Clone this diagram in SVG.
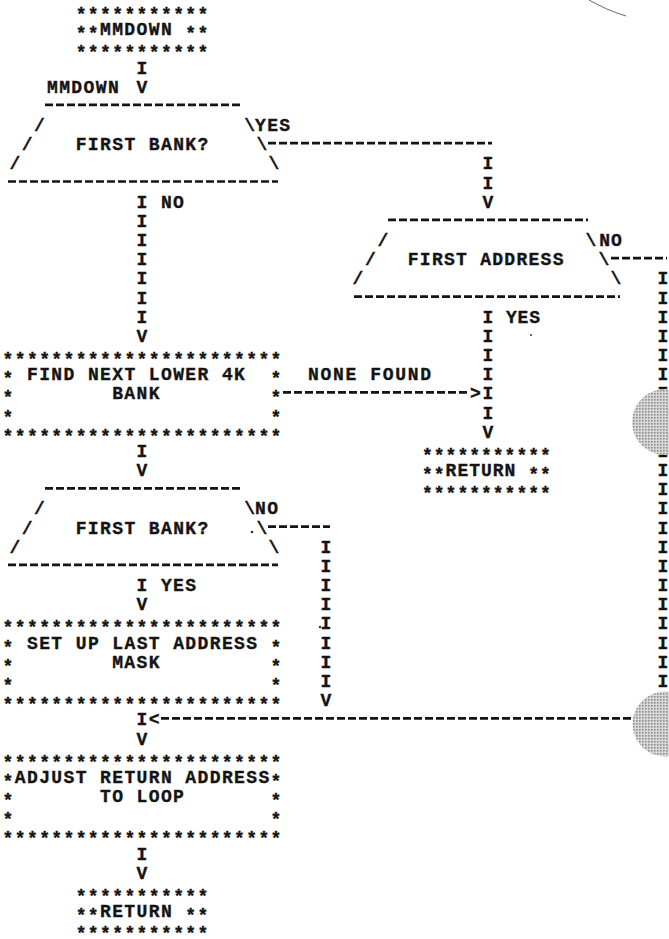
<svg xmlns="http://www.w3.org/2000/svg" width="669" height="939" viewBox="0 0 669 939">
<defs>
<style>
text{font-family:"Liberation Mono","DejaVu Sans Mono",monospace;font-size:18px;font-weight:bold;fill:#141414;stroke:#141414;stroke-width:0.35px}
.a{letter-spacing:1.38px}
.b{letter-spacing:1.67px}
.c{letter-spacing:0.87px}
.e{letter-spacing:1px}
.f{letter-spacing:1.27px}
.m{text-anchor:middle}
.d{stroke:#141414;stroke-width:2.7;stroke-dasharray:8 3;fill:none}
</style>
<pattern id="stip" width="3" height="3" patternUnits="userSpaceOnUse"><rect width="3" height="3" fill="#d8d8d8"/><rect width="1.6" height="1.6" fill="#8e8e8e"/></pattern>
</defs>
<rect width="669" height="939" fill="#fff"/>

<g id="start">
<text class="a" x="75.7" y="20">***********</text>
<text class="a" x="75.7" y="39.2">**</text>
<text class="a" x="100" y="35.2">MMDOWN</text>
<text class="a" x="185.3" y="39.2">**</text>
<text class="a" x="75.7" y="58.3">***********</text>
</g>

<g id="decision1">
<line class="d" x1="45" y1="104.9" x2="243" y2="104.9"/>
<text class="m" x="39.4" y="131">/</text>
<text class="m" x="249.6" y="131">\</text>
<text class="m" x="27.2" y="150.2">/</text>
<text class="a" x="75.7" y="150.2">FIRST BANK?</text>
<text class="m" x="261.8" y="150.2">\</text>
<text class="m" x="15" y="169.4">/</text>
<text class="m" x="274" y="169.4">\</text>
<line class="d" x1="8" y1="181.5" x2="278" y2="181.5"/>
</g>

<g id="decision2">
<line class="d" x1="388" y1="219.9" x2="588" y2="219.9"/>
<text class="m" x="383" y="246">/</text>
<text class="m" x="591" y="246">\</text>
<text class="m" x="370.3" y="265.2">/</text>
<text class="f" x="407.8" y="265.2">FIRST ADDRESS</text>
<text class="m" x="604" y="265.2">\</text>
<text class="m" x="358" y="284.4">/</text>
<text class="m" x="616" y="284.4">\</text>
<line class="d" x1="354" y1="296.6" x2="620" y2="296.6"/>
</g>

<g id="process1">
<text class="a" x="2.6" y="365.1">***********************</text>
<text class="m" x="8" y="384.2">*</text>
<text class="a" x="27" y="380.2">FIND NEXT LOWER 4K</text>
<text class="m" x="276" y="384.2">*</text>
<text class="m" x="8" y="403.4">*</text>
<text class="a" x="112.2" y="399.4">BANK</text>
<text class="m" x="276" y="403.4">*</text>
<text class="m" x="8" y="422.6">*</text>
<text class="m" x="276" y="422.6">*</text>
<text class="a" x="2.6" y="441.7">***********************</text>
</g>

<g id="return1">
<text class="e" x="422" y="460.9">***********</text>
<text class="e" x="422" y="480.1">**</text>
<text class="e" x="445.6" y="476.1">RETURN</text>
<text class="e" x="528.2" y="480.1">**</text>
<text class="e" x="422" y="499.3">***********</text>
</g>

<g id="decision3">
<line class="d" x1="45" y1="488.3" x2="243" y2="488.3"/>
<text class="m" x="39.4" y="514.4">/</text>
<text class="m" x="249.6" y="514.4">\</text>
<text class="m" x="27.2" y="533.6">/</text>
<text class="a" x="75.7" y="533.6">FIRST BANK?</text>
<text class="m" x="261.8" y="533.6">\</text>
<text class="m" x="15" y="552.8">/</text>
<text class="m" x="274" y="552.8">\</text>
<line class="d" x1="8" y1="564.9" x2="278" y2="564.9"/>
</g>

<g id="process2">
<text class="a" x="2.6" y="633.4">***********************</text>
<text class="m" x="8" y="652.6">*</text>
<text class="a" x="27" y="648.6">SET UP LAST ADDRESS</text>
<text class="m" x="276" y="652.6">*</text>
<text class="m" x="8" y="671.8">*</text>
<text class="a" x="112.2" y="667.8">MASK</text>
<text class="m" x="276" y="671.8">*</text>
<text class="m" x="8" y="690.9">*</text>
<text class="m" x="276" y="690.9">*</text>
<text class="a" x="2.6" y="710.1">***********************</text>
</g>

<g id="process3">
<text class="a" x="2.6" y="767.6">***********************</text>
<text class="m" x="8" y="786.8">*</text>
<text class="a" x="14.8" y="782.8">ADJUST RETURN ADDRESS</text>
<text class="m" x="276" y="786.8">*</text>
<text class="m" x="8" y="806">*</text>
<text class="a" x="100" y="802">TO LOOP</text>
<text class="m" x="276" y="806">*</text>
<text class="m" x="8" y="825.1">*</text>
<text class="m" x="276" y="825.1">*</text>
<text class="a" x="2.6" y="844.3">***********************</text>
</g>

<g id="return2">
<text class="a" x="75.7" y="901.8">***********</text>
<text class="a" x="75.7" y="921">**</text>
<text class="a" x="100" y="917">RETURN</text>
<text class="a" x="185.3" y="921">**</text>
<text class="a" x="75.7" y="938.5">***********</text>
</g>

<g id="connectors">
<text class="m" x="142" y="73.5">I</text>
<text class="a" x="47" y="92.7">MMDOWN</text>
<text class="m" x="142" y="92.7">V</text>
<text class="a" x="255" y="131">YES</text>
<line class="d" x1="268" y1="143.2" x2="492" y2="143.2"/>
<text class="m" x="488" y="169.4">I</text>
<text class="m" x="488" y="188.5">I</text>
<text class="m" x="488" y="207.7">V</text>
<text class="m" x="142" y="207.7">I</text>
<text class="a" x="160.9" y="207.7">NO</text>
<text class="m" x="142" y="226.9">I</text>
<text class="m" x="142" y="246">I</text>
<text class="m" x="142" y="265.2">I</text>
<text class="m" x="142" y="284.4">I</text>
<text class="m" x="142" y="303.6">I</text>
<text class="m" x="142" y="322.7">I</text>
<text class="m" x="142" y="341.9">V</text>
<text class="m" x="488" y="322.7">I</text>
<text class="c" x="505.9" y="322.7">YES</text>
<text class="m" x="488" y="341.9">I</text>
<text class="m" x="488" y="361.1">I</text>
<text class="m" x="488" y="380.2">I</text>
<text class="m" x="488" y="399.4">I</text>
<text class="m" x="488" y="418.6">I</text>
<text class="m" x="488" y="437.7">V</text>
<text class="b" x="308" y="380.2">NONE FOUND</text>
<line class="d" x1="283" y1="392.4" x2="469" y2="392.4"/>
<text class="m" x="475.5" y="399.4">&gt;</text>
<text class="m" x="142" y="456.9">I</text>
<text class="m" x="142" y="476.1">V</text>
<text class="c" x="599.3" y="246">NO</text>
<line class="d" x1="611" y1="258.2" x2="667" y2="258.2"/>
<text class="m" x="663" y="284.4">I</text>
<text class="m" x="663" y="303.6">I</text>
<text class="m" x="663" y="322.7">I</text>
<text class="m" x="663" y="341.9">I</text>
<text class="m" x="663" y="361.1">I</text>
<text class="m" x="663" y="380.2">I</text>
<text class="m" x="663" y="399.4">I</text>
<text class="m" x="663" y="418.6">I</text>
<text class="m" x="663" y="437.7">I</text>
<text class="m" x="663" y="456.9">I</text>
<text class="m" x="663" y="476.1">I</text>
<text class="m" x="663" y="495.3">I</text>
<text class="m" x="663" y="514.4">I</text>
<text class="m" x="663" y="533.6">I</text>
<text class="m" x="663" y="552.8">I</text>
<text class="m" x="663" y="571.9">I</text>
<text class="m" x="663" y="591.1">I</text>
<text class="m" x="663" y="610.3">I</text>
<text class="m" x="663" y="629.4">I</text>
<text class="m" x="663" y="648.6">I</text>
<text class="m" x="663" y="667.8">I</text>
<text class="m" x="663" y="686.9">I</text>
<text class="m" x="663" y="706.1">V</text>
<text class="a" x="255" y="514.4">NO</text>
<line class="d" x1="268" y1="526.6" x2="330" y2="526.6"/>
<text class="m" x="326" y="552.8">I</text>
<text class="m" x="326" y="571.9">I</text>
<text class="m" x="326" y="591.1">I</text>
<text class="m" x="326" y="610.3">I</text>
<text class="m" x="326" y="629.4">I</text>
<text class="m" x="326" y="648.6">I</text>
<text class="m" x="326" y="667.8">I</text>
<text class="m" x="326" y="686.9">I</text>
<text class="m" x="326" y="706.1">V</text>
<text class="m" x="142" y="591.1">I</text>
<text class="a" x="160.9" y="591.1">YES</text>
<text class="m" x="142" y="610.3">V</text>
<text class="m" x="142" y="725.3">I</text>
<text class="m" x="154.2" y="725.3">&lt;</text>
<line class="d" x1="161" y1="718.3" x2="664" y2="718.3"/>
<text class="m" x="142" y="744.5">V</text>
<text class="m" x="142" y="859.5">I</text>
<text class="m" x="142" y="878.6">V</text>
</g>

<g id="scan-marks">
<circle cx="665" cy="422" r="33" fill="url(#stip)"/>
<circle cx="665" cy="724" r="32.5" fill="url(#stip)"/>
<path d="M589,0 C600,6 612,12 626,16" stroke="#666" stroke-width="1" fill="none"/>
<circle cx="252" cy="532" r="1.3" fill="#333"/>
<circle cx="320" cy="627" r="1.2" fill="#333"/>
<circle cx="531" cy="335" r="1.1" fill="#444"/>
</g>
</svg>
